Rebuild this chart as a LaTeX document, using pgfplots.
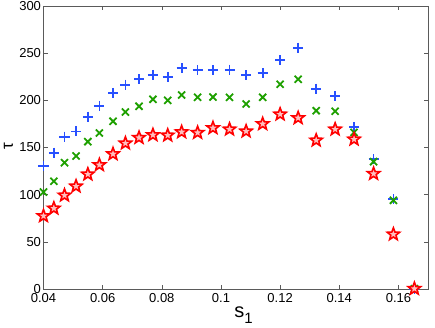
\documentclass[border=0pt]{standalone}
\usepackage{fontspec}
\setmainfont{Liberation Sans}
\usepackage{pgfplots}
\pgfplotsset{compat=1.18}

\definecolor{mblue}{RGB}{40,80,255}
\definecolor{mgreen}{RGB}{30,160,0}
\definecolor{mred}{RGB}{255,0,0}
\definecolor{axgray}{RGB}{90,90,90}

% five-pointed star (MATLAB pentagram)
\pgfdeclareplotmark{pentagram}{%
  \pgfpathmoveto{\pgfpointpolar{90}{\pgfplotmarksize}}%
  \pgfpathlineto{\pgfpointpolar{126}{0.42\pgfplotmarksize}}%
  \pgfpathlineto{\pgfpointpolar{162}{\pgfplotmarksize}}%
  \pgfpathlineto{\pgfpointpolar{198}{0.42\pgfplotmarksize}}%
  \pgfpathlineto{\pgfpointpolar{234}{\pgfplotmarksize}}%
  \pgfpathlineto{\pgfpointpolar{270}{0.42\pgfplotmarksize}}%
  \pgfpathlineto{\pgfpointpolar{306}{\pgfplotmarksize}}%
  \pgfpathlineto{\pgfpointpolar{342}{0.42\pgfplotmarksize}}%
  \pgfpathlineto{\pgfpointpolar{18}{\pgfplotmarksize}}%
  \pgfpathlineto{\pgfpointpolar{54}{0.42\pgfplotmarksize}}%
  \pgfpathclose
  \pgfusepathqfillstroke
}

\pgfplotstableread{
s      blue   green  red
0.0400 130.7  102.8  77.4
0.0435 144.5  114.2  85.5
0.0471 161.5  133.9  99.3
0.0510 167.0  141.0  108.9
0.0550 182.7  156.2  121.6
0.0589 194.0  165.4  131.5
0.0635 208.0  177.8  143.1
0.0677 216.6  187.6  154.5
0.0723 222.6  193.7  160.4
0.0770 227.0  201.1  163.3
0.0820 225.0  200.0  162.9
0.0867 234.0  205.7  166.4
0.0921 232.0  203.2  165.7
0.0973 232.0  203.5  170.7
0.1029 232.5  203.2  169.3
0.1085 226.5  196.1  167.2
0.1141 228.7  203.2  175.0
0.1200 242.4  217.0  185.2
0.1261 255.8  222.3  181.3
0.1322 212.3  189.0  157.6
0.1386 204.3  188.4  169.3
0.1450 171.7  166.0  158.7
0.1516 137.8  135.0  122.2
0.1583 95.0   94.0   58.0
0.1654 0.3    0.3    0.3
}\datatable

\begin{document}
\begin{tikzpicture}
\begin{axis}[
  scale only axis,
  width=384.5pt, height=283pt,
  at={(0,0)}, anchor=south west,
  clip=false,
  xmin=0.04, xmax=0.17, ymin=0, ymax=300,
  xtick={0.04,0.06,...,0.16},
  ytick={0,50,...,300},
  tick align=inside,
  major tick length=4pt,
  axis line style={axgray, line width=0.8pt},
  tick style={axgray, line width=0.6pt},
  ticklabel style={font=\fontsize{13}{13}\selectfont, text=black},
  /pgf/number format/assume math mode=true,
  xticklabel style={/pgf/number format/fixed, /pgf/number format/precision=2, yshift=-1pt},
  yticklabel style={xshift=1pt},
  xlabel={s\raisebox{-0.55ex}{\fontsize{15}{15}\selectfont 1}},
  xlabel style={font=\fontsize{20}{20}\selectfont, at={(axis description cs:0.52,0)}, anchor=north, yshift=-14pt},
  ylabel={τ},
  ylabel style={font=\fontsize{17}{17}\selectfont, at={(axis description cs:-0.091,0.505)}, anchor=center},
]
\addplot[only marks, mark=+, mark size=5pt, mblue, mark options={line width=1.8pt}]
  table[x=s, y=blue] {\datatable};
\addplot[only marks, mark=x, mark size=5pt, mgreen, mark options={line width=1.8pt}]
  table[x=s, y=green] {\datatable};
\addplot[only marks, mark=pentagram, mark size=6.5pt, mred, mark options={line width=1.6pt, fill=red!25}]
  table[x=s, y=red] {\datatable};
\end{axis}
\pgfresetboundingbox
\path[use as bounding box] (-43.5pt,-38pt) rectangle (391.5pt,289pt);
\end{tikzpicture}
\end{document}
